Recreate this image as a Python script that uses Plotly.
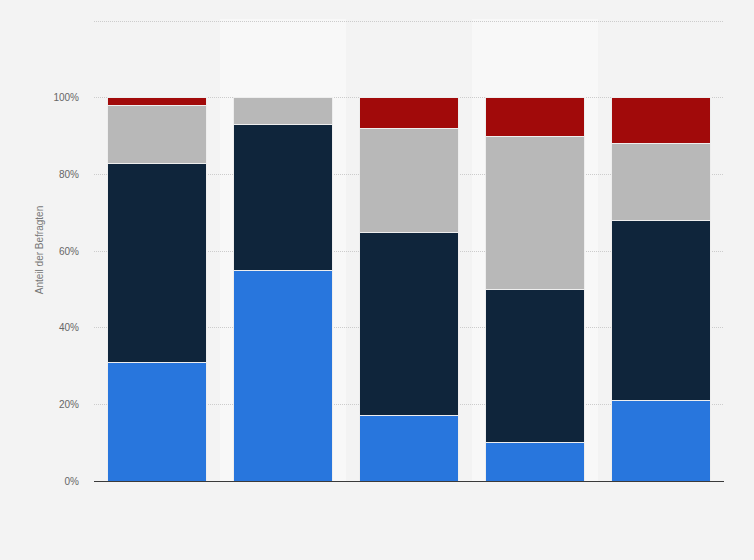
import plotly.graph_objects as go

# Categories (no labels are shown in the reference)
categories = ['A', 'B', 'C', 'D', 'E']

# Shares per answer group, in percent
share_blue = [31, 55, 17, 10, 21]
share_navy = [52, 38, 48, 40, 47]
share_gray = [15, 7, 27, 40, 20]
share_red = [2, 0, 8, 10, 12]

series_names = ['Gruppe 1', 'Gruppe 2', 'Gruppe 3', 'Gruppe 4']
series_colors = ['#2876dd', '#0f253b', '#b8b8b8', '#a10a0a']

tick_vals = [0, 20, 40, 60, 80, 100, 120]
tick_text = ['0%', '20%', '40%', '60%', '80%', '100%', '']

fig = go.Figure()
for name, vals, color in zip(series_names,
                             [share_blue, share_navy, share_gray, share_red],
                             series_colors):
    fig.add_trace(go.Bar(
        x=categories, y=vals, name=name,
        marker=dict(color=color, line=dict(color='#eeeeee', width=1)),
    ))

# lighter background bands behind every second column
shapes = []
for i in (1, 3):
    shapes.append(dict(type='rect', xref='x', yref='paper',
                       x0=i - 0.5, x1=i + 0.5, y0=0, y1=1,
                       fillcolor='#f8f8f8', line=dict(width=0), layer='below'))

fig.update_layout(
    barmode='stack',
    bargap=0.22,
    showlegend=False,
    width=754, height=560,
    margin=dict(l=94, r=30, t=19, b=79),
    paper_bgcolor='#f3f3f3',
    plot_bgcolor='#f3f3f3',
    font=dict(family='Arial, Liberation Sans, sans-serif', color='#666666', size=10),
    shapes=shapes,
    xaxis=dict(showticklabels=False, showgrid=False, showline=True,
               linecolor='#3a3a3a', linewidth=1.2, ticks=''),
    yaxis=dict(range=[0, 120.6], tickvals=tick_vals, ticktext=tick_text,
               showgrid=True, gridcolor='#cccccc', griddash='1px,1px', gridwidth=1,
               zeroline=False, ticks='', ticklabelstandoff=14,
               title=dict(text='Anteil der Befragten', standoff=7,
                          font=dict(size=10, color='#777777'))),
)

# remove the page margin so the chart fills the window
fig.write_html("out.html",
               config={'displayModeBar': False},
               post_script="document.body.style.margin='0';"
                           "document.body.style.overflow='hidden';"
                           "document.body.style.background='#f3f3f3';")
